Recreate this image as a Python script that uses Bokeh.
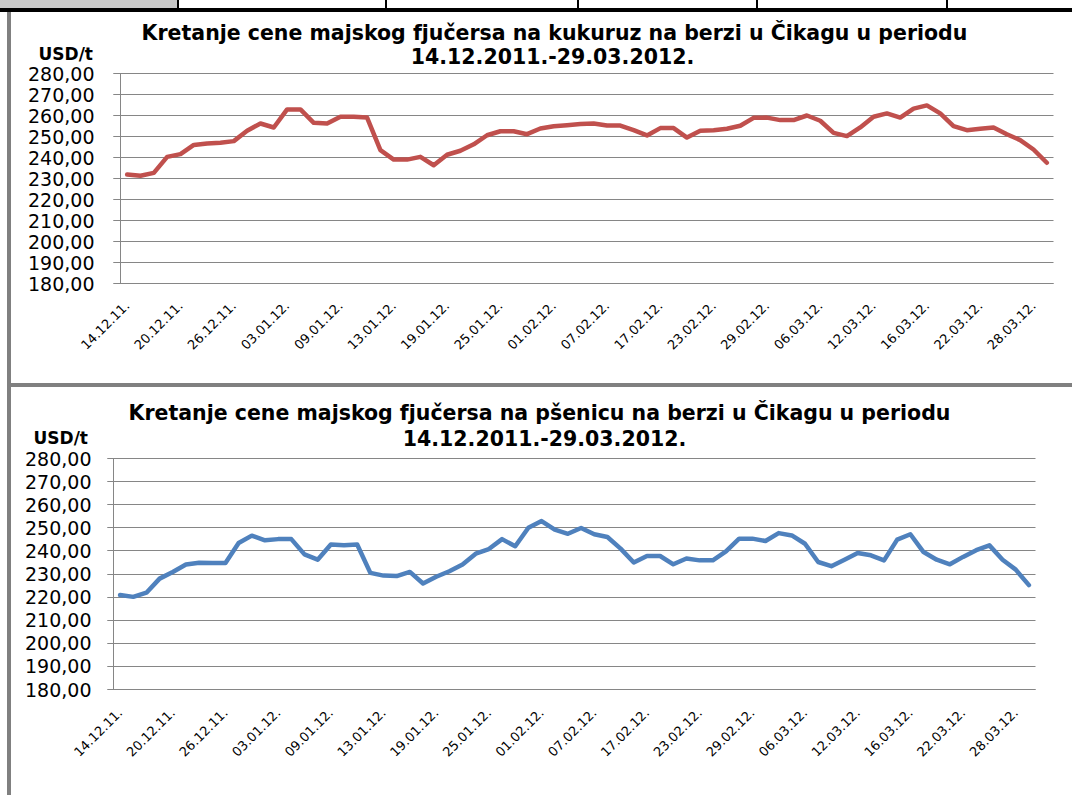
import math
from bokeh.plotting import figure
from bokeh.models import Range1d, FixedTicker, Label, Div
from bokeh.layouts import column, row
from bokeh.embed import file_html
from bokeh.resources import INLINE

# ---------------- data ----------------
date_labels = ["14.12.11.", "20.12.11.", "26.12.11.", "03.01.12.", "09.01.12.",
               "13.01.12.", "19.01.12.", "25.01.12.", "01.02.12.", "07.02.12.",
               "17.02.12.", "23.02.12.", "29.02.12.", "06.03.12.", "12.03.12.",
               "16.03.12.", "22.03.12.", "28.03.12."]
label_step = 4  # one date label every 4 trading days

corn = [231.9, 231.3, 232.7, 240.3, 241.6, 246.0, 246.7, 247.0, 247.8, 252.7,
        256.2, 254.3, 262.9, 262.9, 256.5, 256.2, 259.4, 259.4, 259.0, 243.5,
        239.0, 239.0, 240.3, 236.3, 241.3, 243.2, 246.3, 250.6, 252.5, 252.5,
        251.1, 253.8, 254.9, 255.4, 255.9, 256.2, 255.2, 255.2, 253.0, 250.5,
        254.0, 254.0, 249.5, 252.7, 253.0, 253.7, 255.1, 258.9, 259.0, 257.8,
        257.8, 260.0, 257.5, 251.7, 250.2, 254.3, 259.4, 261.0, 259.0, 263.3,
        264.8, 261.0, 254.9, 253.0, 253.7, 254.3, 251.1, 248.3, 243.8, 237.5]

wheat = [220.9, 220.1, 221.9, 228.0, 230.9, 234.1, 234.9, 234.8, 234.8, 243.4,
         246.6, 244.6, 245.1, 245.1, 238.5, 236.2, 242.8, 242.4, 242.8, 230.5,
         229.3, 229.1, 230.9, 225.9, 228.8, 231.2, 234.1, 238.8, 240.8, 245.1,
         242.0, 250.0, 252.9, 249.2, 247.4, 249.9, 247.2, 246.0, 241.0, 235.0,
         237.8, 237.8, 234.2, 236.7, 235.9, 235.9, 239.8, 245.3, 245.3, 244.3,
         247.7, 246.7, 243.1, 235.2, 233.4, 236.2, 239.1, 238.1, 235.9, 244.9,
         247.2, 239.5, 236.2, 234.2, 237.4, 240.3, 242.4, 236.2, 231.9, 225.2]

y_ticks = [180, 190, 200, 210, 220, 230, 240, 250, 260, 270, 280]

titles = [
    ("Kretanje cene majskog fjučersa na kukuruz na berzi u Čikagu u periodu",
     "14.12.2011.-29.03.2012."),
    ("Kretanje cene majskog fjučersa na pšenicu na berzi u Čikagu u periodu",
     "14.12.2011.-29.03.2012."),
]
unit_label = "USD/t"

GRID = "#868686"
FONT = "DejaVu Sans"
FIG_LEFT = 11          # page x where the chart figures start
W = 1072 - FIG_LEFT    # chart figure width


def make_chart(values, color, title_lines, height, fig_top, axis_x, right_x,
               top_y, bottom_y, tick_out, standoff_y, standoff_x, pos):
    n = len(values)
    # layout geometry (page pixels) -> data ranges so the frame fills the figure
    xs_px = (right_x - axis_x) / n
    x0 = -0.5 - (axis_x - FIG_LEFT) / xs_px
    x1 = x0 + W / xs_px
    ys_px = (bottom_y - top_y) / (y_ticks[-1] - y_ticks[0])
    y1 = y_ticks[-1] + (top_y - fig_top) / ys_px
    y0 = y1 - height / ys_px

    p = figure(width=W, height=height, output_backend="svg",
               toolbar_location=None, x_range=Range1d(x0, x1),
               y_range=Range1d(y0, y1), min_border=0)
    p.title.visible = False
    p.outline_line_color = None
    p.background_fill_color = "white"
    p.border_fill_color = "white"

    xs = list(range(n))
    p.line(xs, values, line_color=color, line_width=4.5, line_join="round",
           line_cap="round")

    # x axis (category-like), fixed at the bottom value
    tick_pos = [i * label_step for i in range(len(date_labels))]
    xt = FixedTicker(ticks=tick_pos)
    p.xaxis.fixed_location = y_ticks[0]
    p.xaxis.bounds = (-0.5, n - 0.5)
    p.xaxis.ticker = xt
    p.xaxis.major_label_overrides = {t: lab for t, lab in zip(tick_pos, date_labels)}
    p.xaxis.major_label_orientation = math.pi / 4
    p.xaxis.major_tick_out = 0
    p.xaxis.major_tick_in = 0
    p.xaxis.minor_tick_out = 0
    p.xaxis.minor_tick_in = 0
    p.xaxis.axis_line_color = GRID
    p.xaxis.major_label_text_font = FONT
    p.xaxis.major_label_text_font_size = "13px"
    p.xaxis.major_label_text_color = "#000000"
    p.xaxis.major_label_standoff = standoff_x
    p.xgrid.visible = False

    # y axis fixed at the left edge of the category area
    yt = FixedTicker(ticks=y_ticks)
    p.yaxis.fixed_location = -0.5
    p.yaxis.bounds = (y_ticks[0], y_ticks[-1])
    p.yaxis.ticker = yt
    p.yaxis.major_label_overrides = {t: f"{t},00" for t in y_ticks}
    p.yaxis.major_tick_out = tick_out
    p.yaxis.major_tick_in = 0
    p.yaxis.minor_tick_out = 0
    p.yaxis.minor_tick_in = 0
    p.yaxis.major_tick_line_color = GRID
    p.yaxis.axis_line_color = GRID
    p.yaxis.major_label_text_font = FONT
    p.yaxis.major_label_text_font_size = "19px"
    p.yaxis.major_label_text_color = "#000000"
    p.yaxis.major_label_standoff = standoff_y

    g = p.ygrid[0]
    g.ticker = yt
    g.grid_line_color = GRID
    g.grid_line_width = 1
    g.bounds = (y_ticks[0], y_ticks[-1])
    if "cross_bounds" in g.properties():
        g.cross_bounds = (-0.5 - tick_out / xs_px, n - 0.5)

    (t1x, t1y), (t2x, t2y), (ux, uy) = pos
    for (tx, ty), txt in (((t1x, t1y), title_lines[0]), ((t2x, t2y), title_lines[1])):
        p.add_layout(Label(x=tx, y=ty, x_units="screen", y_units="screen",
                           text=txt, text_align="center", text_baseline="middle",
                           text_font=FONT, text_font_style="bold",
                           text_font_size="20.5px", text_color="#000000"))
    p.add_layout(Label(x=ux, y=uy, x_units="screen", y_units="screen",
                       text=unit_label, text_align="left", text_baseline="middle",
                       text_font=FONT, text_font_style="bold",
                       text_font_size="17px", text_color="#000000"))
    return p


# chart 1: page y 12..383 ; chart 2: page y 387..795
p1 = make_chart(corn, "#C0504D", titles[0], 371, 12, 120, 1053, 73, 283, 7, 19, 20,
                ((543, 351), (541, 328), (27, 330)))
p2 = make_chart(wheat, "#4F81BD", titles[1], 408, 387, 113, 1035, 458, 689, 6, 16, 21,
                ((528, 383), (533, 358), (22, 358)))

cells = "".join(
    f'<div style="position:absolute;left:{x}px;top:0;width:2px;height:8px;'
    f'background:#000000;"></div>' for x in (177, 385, 577, 756, 946))
strip_html = ('<div style="position:relative;width:1072px;height:12px;'
              'background:#ffffff;overflow:hidden;">'
              '<div style="position:absolute;left:0;top:0;width:177px;height:8px;'
              'background:#c8c8c8;"></div>' + cells +
              '<div style="position:absolute;left:0;top:8px;width:1072px;height:4px;'
              'background:#000000;"></div></div>')
top_strip = Div(text=strip_html, width=1072, height=12, margin=0)
left_white = Div(width=7, height=783, margin=0, styles={"background-color": "#ffffff"})
left_bar = Div(width=4, height=783, margin=0, styles={"background-color": "#808080"})
sep_bar = Div(width=W, height=4, margin=0, styles={"background-color": "#808080"})

layout = column(top_strip,
                row(left_white, left_bar, column(p1, sep_bar, p2, spacing=0), spacing=0),
                spacing=0)

open("out.html", "w").write(file_html(layout, INLINE))
